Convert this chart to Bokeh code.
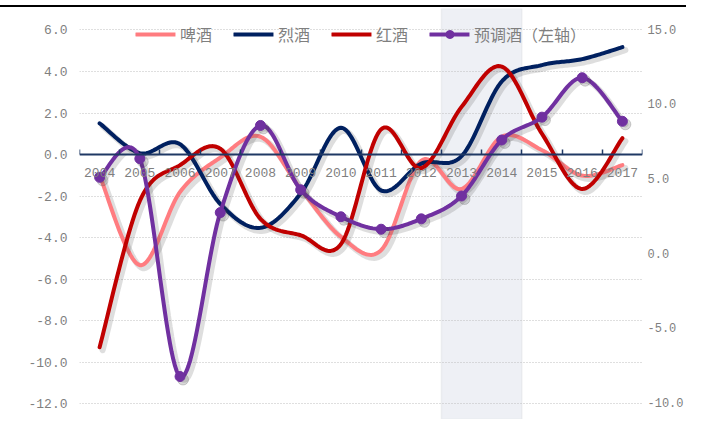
import numpy as np
from bokeh.plotting import figure
from bokeh.layouts import column
from bokeh.models import (Range1d, LinearAxis, FixedTicker, BoxAnnotation, Legend,
                          LegendItem, NumeralTickFormatter, Grid, Div)
from bokeh.embed import file_html
from bokeh.resources import INLINE

# ---------------- data ----------------
years = ["2004", "2005", "2006", "2007", "2008", "2009", "2010",
         "2011", "2012", "2013", "2014", "2015", "2016", "2017"]
beer = [5.2, -0.8, 4.1, 6.4, 7.8, 4.3, 1.1, 0.2, 6.2, 4.3, 7.8, 6.9, 5.2, 5.9]          # right axis
spirits = [8.7, 6.7, 7.3, 3.3, 1.7, 4.0, 8.4, 4.2, 6.0, 6.5, 11.5, 12.6, 13.0, 13.8]    # right axis
wine = [-6.3, 3.5, 5.9, 7.0, 2.3, 1.2, 0.6, 8.3, 5.7, 9.8, 12.5, 8.0, 4.3, 7.7]        # right axis
premix = [-1.1, -0.2, -10.7, -2.8, 1.4, -1.7, -3.0, -3.6, -3.1, -2.0, 0.7, 1.8, 3.7, 1.6]  # left axis
series_names = ["啤酒", "烈酒", "红酒", "预调酒（左轴）"]
left_ticks = [-12, -10, -8, -6, -4, -2, 0, 2, 4, 6]
right_ticks = [-10, -5, 0, 5, 10, 15]
band_years = ["2013", "2014"]

# ---------------- layout ----------------
W, H = 686, 412
BL, BR, BT, BB = 79, 41, 1, 0
LEFT = (-12.77, 7.036)
RIGHT = (-11.14, 16.39)
FW, FH = W - BL - BR, H - BT - BB

TXT = "#7F7F7F"
MONO = "Liberation Mono"
CJK = "Noto Sans CJK SC"
C_BEER, C_SPIRIT, C_WINE, C_PRE = "#FF7C80", "#002060", "#C00000", "#7030A0"

n = len(years)
fig = figure(width=W, height=H, x_range=Range1d(-0.5, n - 0.5), y_range=Range1d(*LEFT),
             output_backend="svg", toolbar_location=None, x_axis_type=None, y_axis_type=None,
             min_border_left=BL, min_border_right=BR, min_border_top=BT, min_border_bottom=BB,
             title=None)
fig.outline_line_color = None
fig.background_fill_color = "white"
fig.extra_y_ranges = {"right": Range1d(*RIGHT)}

# shaded band
b0 = years.index(band_years[0]) - 0.5
b1 = years.index(band_years[-1]) + 0.5
fig.add_layout(BoxAnnotation(left=b0, right=b1, fill_color="#EEF0F5", fill_alpha=1.0,
                             line_color="#D2D3D8", line_width=1.5, level="image"))

# grid
fig.add_layout(Grid(dimension=1, ticker=FixedTicker(ticks=[t for t in left_ticks if t != 0]),
                    grid_line_color="#BFBFBF", grid_line_dash="1 2", grid_line_width=1))


def smooth(ys, seg=24):
    x = np.arange(len(ys), dtype=float)
    y = np.asarray(ys, dtype=float)
    P = np.column_stack([x, y])
    out = []
    m = len(P)
    for i in range(m - 1):
        p0, p3 = P[i], P[i + 1]
        prev = P[i - 1] if i > 0 else p0
        nxt = P[i + 2] if i + 2 < m else p3
        c1 = p0 + (p3 - prev) / 6.0
        c2 = p3 - (nxt - p0) / 6.0
        t = np.linspace(0, 1, seg, endpoint=(i == m - 2))[:, None]
        pts = ((1 - t) ** 3) * p0 + 3 * ((1 - t) ** 2) * t * c1 + 3 * (1 - t) * t ** 2 * c2 + t ** 3 * p3
        out.append(pts)
    pts = np.vstack(out)
    return pts[:, 0], pts[:, 1]


px_x = n / FW
px_left = (LEFT[1] - LEFT[0]) / FH
px_right = (RIGHT[1] - RIGHT[0]) / FH
SH = 3  # shadow offset, px

renderers = {}
for name, vals, col, rng in [("啤酒", beer, C_BEER, "right"),
                             ("烈酒", spirits, C_SPIRIT, "right"),
                             ("红酒", wine, C_WINE, "right"),
                             ("预调酒（左轴）", premix, C_PRE, "default")]:
    sx, sy = smooth(vals)
    dy = (px_right if rng == "right" else px_left) * SH
    fig.line(sx + px_x * SH, sy - dy, line_color="#3A3A3A", line_alpha=0.17, line_width=6,
             line_cap="round", y_range_name=rng)
    r = fig.line(sx, sy, line_color=col, line_width=4, line_cap="round", line_join="round",
                 y_range_name=rng)
    rs = [r]
    if rng == "default":
        xs = np.arange(n, dtype=float)
        fig.scatter(xs + px_x * SH, np.asarray(vals) - dy, size=11, color="#3A3A3A", alpha=0.2)
        s = fig.scatter(xs, vals, size=10, fill_color=col, line_color=col)
        rs.append(s)
    renderers[name] = rs

# axes
xaxis = LinearAxis(ticker=FixedTicker(ticks=list(range(n)),
                                      minor_ticks=[i - 0.5 for i in range(n + 1)]),
                   fixed_location=0,
                   major_label_overrides={i: y for i, y in enumerate(years)},
                   axis_line_color="#1F3864", axis_line_width=2,
                   major_tick_line_color=None, major_tick_in=0, major_tick_out=0,
                   minor_tick_in=5, minor_tick_out=0, minor_tick_line_color="#1F3864",
                   minor_tick_line_width=1.5, major_label_standoff=13,
                   major_label_text_font=MONO, major_label_text_font_size="13px",
                   major_label_text_color=TXT)
fig.add_layout(xaxis, "below")

laxis = LinearAxis(ticker=FixedTicker(ticks=left_ticks),
                   formatter=NumeralTickFormatter(format="0.0"),
                   axis_line_color=None, major_tick_line_color=None, minor_tick_line_color=None,
                   major_tick_in=0, major_tick_out=0, minor_tick_in=0, minor_tick_out=0,
                   major_label_standoff=12, major_label_text_font=MONO,
                   major_label_text_font_size="13px", major_label_text_color=TXT)
fig.add_layout(laxis, "left")

raxis = LinearAxis(y_range_name="right", ticker=FixedTicker(ticks=right_ticks),
                   formatter=NumeralTickFormatter(format="0.0"),
                   axis_line_color=None, major_tick_line_color=None, minor_tick_line_color=None,
                   major_tick_in=0, major_tick_out=0, minor_tick_in=0, minor_tick_out=0,
                   major_label_standoff=5, major_label_text_font=MONO,
                   major_label_text_font_size="12px", major_label_text_color=TXT)
fig.add_layout(raxis, "right")

legend = Legend(items=[LegendItem(label=nm, renderers=renderers[nm]) for nm in series_names],
                location="top_center", orientation="horizontal",
                glyph_width=40, glyph_height=20, label_height=20, label_standoff=5,
                spacing=21, padding=0, margin=14,
                background_fill_alpha=0, border_line_alpha=0,
                label_text_font=CJK, label_text_font_size="16px", label_text_color=TXT)
fig.add_layout(legend)

# thin black rule across the top of the chart
rule = Div(text="", width=W, height=2, margin=(5, 0, 0, 0),
           styles={"background-color": "black"})

p = column(rule, fig, spacing=0)

open("out.html", "w").write(file_html(p, INLINE))
